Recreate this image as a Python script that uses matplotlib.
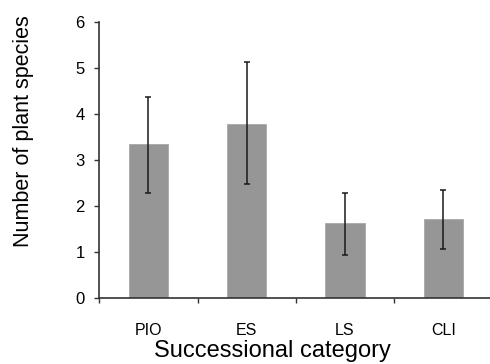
import matplotlib
matplotlib.use("Agg")
import matplotlib.pyplot as plt
import numpy as np

categories = ["PIO", "ES", "LS", "CLI"]
means = [3.35, 3.80, 1.63, 1.72]
err_low = [2.30, 2.48, 0.94, 1.07]
err_high = [4.37, 5.13, 2.30, 2.35]


def main() -> None:
    plt.rcParams["font.family"] = ["Liberation Sans", "DejaVu Sans"]

    fig = plt.figure(figsize=(4.9, 3.64), dpi=100)
    ax = fig.add_axes([0.2027, 0.1805, 0.8024, 0.7582])

    x = np.arange(len(categories)) + 0.5
    lower = [m - lo for m, lo in zip(means, err_low)]
    upper = [hi - m for m, hi in zip(means, err_high)]
    ax.bar(x, means, width=0.4, color="#969696", edgecolor="#a8a8a8", linewidth=0.6, zorder=2)
    ax.errorbar(x, means, yerr=[lower, upper], fmt="none", ecolor="#1a1a1a",
                elinewidth=1.1, capsize=2.5, capthick=1.1, zorder=3)

    ax.set_xlim(0, 4)
    ax.set_ylim(0, 6)
    ax.set_yticks(range(0, 7))
    ax.set_xticks(np.arange(0, 5))
    ax.set_xticklabels([])
    ax.set_xticks(x, minor=True)
    ax.set_xticklabels(categories, minor=True)
    ax.tick_params(axis="x", which="major", direction="out", length=3.5, width=1.0, color="#333333")
    ax.tick_params(axis="x", which="minor", length=0, pad=18, labelsize=11.5)
    ax.tick_params(axis="y", direction="out", length=3.5, width=1.0, color="#333333", pad=7, labelsize=12)

    for side in ("top", "right"):
        ax.spines[side].set_visible(False)
    for side in ("left", "bottom"):
        ax.spines[side].set_color("#333333")
        ax.spines[side].set_linewidth(1.2)

    # labels sit off-centre in the original figure
    fig.text(272 / 490, 1 - 351 / 364, "Successional category", fontsize=17,
             ha="center", va="center")
    fig.text(23 / 490, 1 - 131.5 / 364, "Number of plant species", fontsize=15.5,
             rotation=90, ha="center", va="center")

    fig.savefig("out.png", dpi=100)
    plt.close(fig)


if __name__ == "__main__":
    main()
